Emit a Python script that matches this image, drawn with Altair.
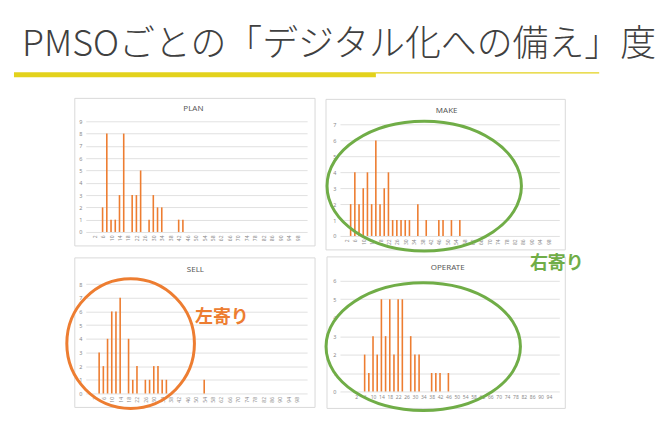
import altair as alt
import pandas as pd

# ---- data ----
plan_x = [6, 8, 10, 12, 14, 16, 20, 22, 24, 28, 30, 32, 34, 42, 44]
plan_y = [2, 8, 1, 1, 3, 8, 3, 3, 5, 1, 3, 2, 2, 1, 1]
make_x = [4, 6, 8, 10, 12, 14, 16, 18, 20, 22, 24, 26, 28, 30, 32, 36, 40, 46, 48, 52, 56]
make_y = [2, 4, 2, 3, 4, 2, 6, 2, 3, 4, 1, 1, 1, 1, 1, 2, 1, 1, 1, 1, 1]
sell_x = [4, 6, 8, 10, 12, 14, 18, 20, 22, 26, 28, 30, 32, 34, 36, 54]
sell_y = [3, 2, 4, 6, 6, 7, 4, 1, 2, 1, 1, 2, 2, 1, 1, 1]
operate_x = [6, 8, 10, 12, 14, 16, 18, 20, 22, 24, 28, 30, 32, 38, 40, 42, 46]
operate_y = [2, 1, 3, 2, 5, 3, 5, 2, 5, 5, 3, 2, 2, 1, 1, 1, 1]

x_ticks_98 = list(range(2, 99, 4))
x_ticks_94 = list(range(2, 95, 4))

title_text = "PMSOごとの「デジタル化への備え」度"
left_note = "左寄り"
right_note = "右寄り"

# ---- styles ----
ORANGE = "#ED7D31"
GREEN = "#70AD47"
YELLOW = "#E3D21C"
GRID = "#d9d9d9"
LABEL = "#8a8a8a"
FONT = "Noto Sans"
CJK = "Noto Sans CJK JP"

K = 0.5523


def ellipse_path(r):
    return (f"M1,0 C1,{K*r:.4f} {K},{r:.4f} 0,{r:.4f} "
            f"C{-K},{r:.4f} -1,{K*r:.4f} -1,0 "
            f"C-1,{-K*r:.4f} {-K},{-r:.4f} 0,{-r:.4f} "
            f"C{K},{-r:.4f} 1,{-K*r:.4f} 1,0 Z")


def one():
    return alt.Chart(alt.Data(values=[{}]))


def box(x0, x1, y0, y1):
    return one().mark_rect(fill="white", fillOpacity=0, stroke=GRID, strokeWidth=1).encode(
        x=alt.value(x0), x2=alt.value(x1), y=alt.value(y0), y2=alt.value(y1))


def ptitle(text, x, y):
    return one().mark_text(text=text, font=FONT, fontSize=8, color="#595959").encode(
        x=alt.value(x), y=alt.value(y))


def ellipse(cx, cy, rx, ry, color):
    return one().mark_point(shape=ellipse_path(ry / rx), size=(2 * rx) ** 2, filled=False,
                            color=color, strokeWidth=3, opacity=1).encode(
        x=alt.value(cx), y=alt.value(cy))


def bars(xs, ys, xdom, ydom, ymax, xticks, angle):
    df = pd.DataFrame({"score": xs, "count": ys})
    xaxis = alt.Axis(values=xticks, labelAngle=angle, labelFontSize=5, labelColor=LABEL,
                     labelFont=FONT, ticks=False, domain=False, grid=False, labelPadding=3,
                     labelOverlap=False, labelFlush=False, title=None)
    yaxis = alt.Axis(values=list(range(0, ymax + 1)), labelFontSize=5.5, labelColor=LABEL,
                     labelFont=FONT, ticks=False, domain=False, grid=True, gridColor=GRID,
                     gridWidth=0.8, labelPadding=4, title=None)
    return alt.Chart(df).mark_bar(size=1.6, color=ORANGE).encode(
        x=alt.X("score:Q", scale=alt.Scale(domain=xdom, nice=False, zero=False), axis=xaxis),
        y=alt.Y("count:Q", scale=alt.Scale(domain=ydom, nice=False), axis=yaxis),
    )


# PLAN panel (plot origin at page 85,120) also carries the page header
page_bg = one().mark_rect(fill="white", fillOpacity=0).encode(
    x=alt.value(-77), x2=alt.value(577), y=alt.value(-112), y2=alt.value(306))
header = one().mark_text(text=title_text, font=CJK, fontSize=36, fontWeight=300,
                         color="#404040", align="left", baseline="alphabetic").encode(
    x=alt.value(-64), y=alt.value(-65))
thick = one().mark_rect(color=YELLOW).encode(
    x=alt.value(-72), x2=alt.value(291), y=alt.value(-49.3), y2=alt.value(-44.3))
thin = one().mark_rect(color=YELLOW).encode(
    x=alt.value(291), x2=alt.value(515), y=alt.value(-49.3), y2=alt.value(-47.9))

plan = alt.layer(
    page_bg, header, thick, thin,
    box(-11, 230, -23, 125),
    bars(plan_x, plan_y, [0.4, 100.4], [0, 9], 9, x_ticks_98, 270),
    ptitle("PLAN", 108, -12),
).properties(width=222, height=111)

make = alt.layer(
    box(-14, 226, -22, 129),
    bars(make_x, make_y, [1.3, 101], [0, 7.21], 7, x_ticks_98, 270),
    ptitle("MAKE", 107, -10),
    ellipse(84.5, 65, 97.5, 65, GREEN),
).properties(width=220, height=115)

sell = alt.layer(
    box(-11, 230, -23, 127),
    bars(sell_x, sell_y, [0, 100.6], [0, 8.24], 8, x_ticks_98, 270),
    ptitle("SELL", 110, -11),
    ellipse(45, 63, 64, 65, ORANGE),
    one().mark_text(text=left_note, font=CJK, fontSize=18, fontWeight="bold",
                    color=ORANGE).encode(x=alt.value(136.5), y=alt.value(37)),
).properties(width=222, height=113)

operate = alt.layer(
    box(-13, 226, -24, 128),
    bars(operate_x, operate_y, [-3.4, 96.6], [0, 6], 6, x_ticks_94, 0),
    ptitle("OPERATE", 108, -12.5),
    ellipse(83.5, 66, 97.5, 64, GREEN),
    one().mark_text(text=right_note, font=CJK, fontSize=18, fontWeight="bold",
                    color=GREEN).encode(x=alt.value(217.5), y=alt.value(-16.5)),
).properties(width=220, height=111)

chart = alt.concat(
    plan, make, sell, operate, columns=2,
    spacing={"row": 45, "column": 33}, bounds="flush",
).properties(padding=0, background="white").configure_view(stroke="transparent")

chart.save("out.html", embed_options={"renderer": "svg", "actions": False})
